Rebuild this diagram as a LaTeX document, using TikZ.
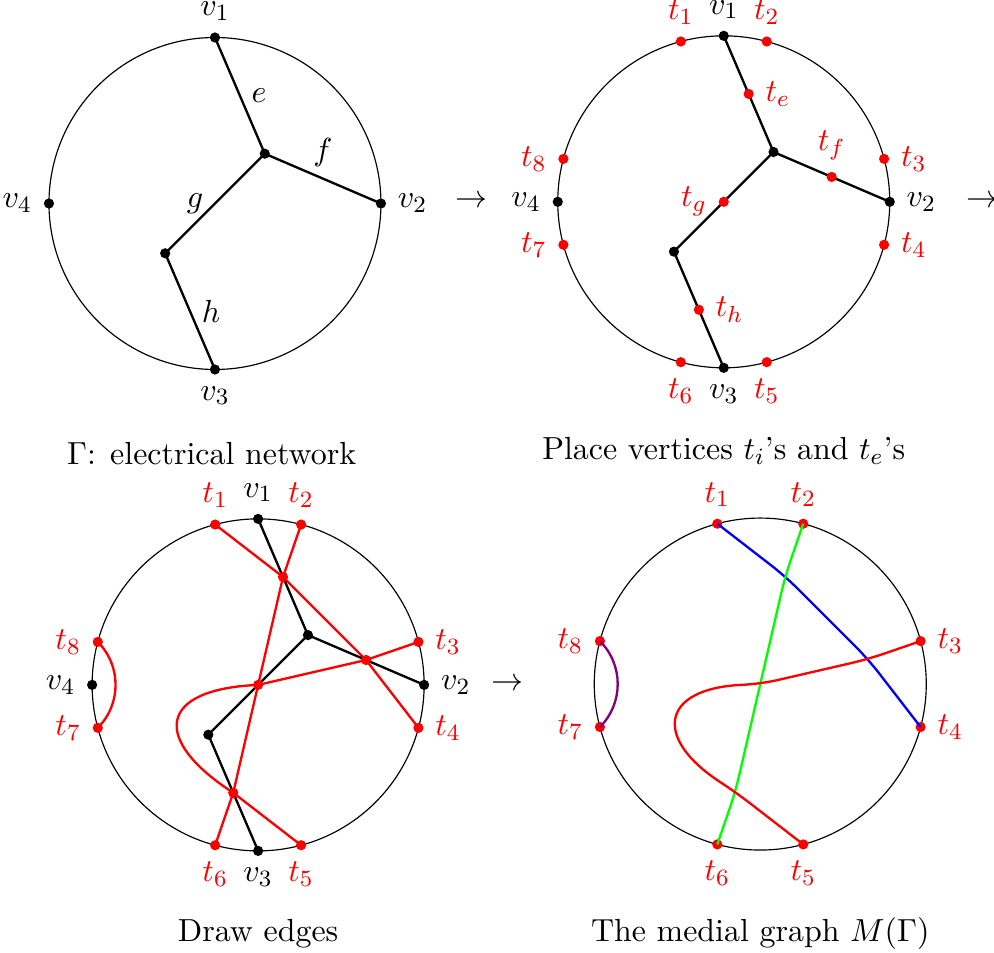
\documentclass[tikz,border=0pt,11pt]{standalone}
\usepackage{amsmath}
\usetikzlibrary{calc,positioning}

\tikzset{
  vtx/.style={circle, fill=black, inner sep=0pt, minimum size=3.5pt, label distance=-1.5pt},
  tvtx/.style={vtx, fill=red},
  edge/.style={thick},
  redge/.style={thick, red},
  medial/.style={thick, rounded corners=6pt},
}

\begin{document}
\begin{tikzpicture}
\useasboundingbox (0,0) rectangle (11.976,11.482);

% the same points in all four panels
\foreach \p/\cx/\cy in {a/2.59/9.03, b/8.72/9.05, c/3.11/3.23, d/9.16/3.24}{
  \begin{scope}[shift={(\cx,\cy)}]
    \coordinate (\p-o) at (0,0);
    \coordinate (\p-v1) at (90:2);
    \coordinate (\p-v2) at (0:2);
    \coordinate (\p-v3) at (270:2);
    \coordinate (\p-v4) at (180:2);
    \coordinate (\p-A) at (0.6,0.6);
    \coordinate (\p-B) at (-0.6,-0.6);
    \coordinate (\p-te) at (0.3,1.3);
    \coordinate (\p-tf) at (1.3,0.3);
    \coordinate (\p-tg) at (0,0);
    \coordinate (\p-th) at (-0.3,-1.3);
    \coordinate (\p-c1) at (-1.2,-0.05);
    \coordinate (\p-c2) at (-1.3,-0.65);
    \foreach \i/\a in {1/105,2/75,3/15,4/-15,5/-75,6/-105,7/195,8/165}
      \coordinate (\p-t\i) at (\a:2);
  \end{scope}
}

% panel 1: the network
\draw (a-o) circle (2);
\draw[edge] (a-v1) -- node[right]{$e$} (a-A);
\draw[edge] (a-A) -- node[above]{$f$} (a-v2);
\draw[edge] (a-A) -- node[left]{$g$} (a-B);
\draw[edge] (a-B) -- node[right]{$h$} (a-v3);
\foreach \v/\pos in {1/above,2/right,3/below,4/left}
  \node[vtx, label=\pos:$v_\v$] at (a-v\v) {};
\node[vtx] at (a-A) {}; \node[vtx] at (a-B) {};

% panel 2: new vertices
\draw (b-o) circle (2);
\draw[edge] (b-v1) -- (b-A) -- (b-v2);
\draw[edge] (b-A) -- (b-B) -- (b-v3);
\foreach \v/\pos in {1/above,2/right,3/below,4/left}
  \node[vtx, label=\pos:$v_\v$] at (b-v\v) {};
\node[vtx] at (b-A) {}; \node[vtx] at (b-B) {};
\foreach \i/\pos in {1/above,2/above,3/right,4/right,5/below,6/below,7/left,8/left}
  \node[tvtx, label={[red]\pos:$t_\i$}] at (b-t\i) {};
\node[tvtx, label={[red]right:$t_e$}] at (b-te) {};
\node[tvtx, label={[red]above:$t_f$}] at (b-tf) {};
\node[tvtx, label={[red]left:$t_g$}] at (b-tg) {};
\node[tvtx, label={[red]right:$t_h$}] at (b-th) {};

% panel 3: edges
\draw (c-o) circle (2);
\draw[redge] (c-t1) -- (c-te) -- (c-tf) -- (c-t4);
\draw[redge] (c-t2) -- (c-te) -- (c-tg) -- (c-th) -- (c-t6);
\draw[redge] (c-t3) -- (c-tf) -- (c-tg) .. controls (c-c1) and (c-c2) .. (c-th) -- (c-t5);
\draw[redge] (c-t8) to[bend left=45] (c-t7);
\draw[edge] (c-v1) -- (c-A) -- (c-v2);
\draw[edge] (c-A) -- (c-B) -- (c-v3);
\foreach \v/\pos in {1/above,2/right,3/below,4/left}
  \node[vtx, label=\pos:$v_\v$] at (c-v\v) {};
\node[vtx] at (c-A) {}; \node[vtx] at (c-B) {};
\foreach \i/\pos in {1/above,2/above,3/right,4/right,5/below,6/below,7/left,8/left}
  \node[tvtx, label={[red]\pos:$t_\i$}] at (c-t\i) {};
\foreach \q in {te,tf,tg,th}
  \node[tvtx] at (c-\q) {};

% panel 4: medial graph
\draw (d-o) circle (2);
\foreach \i/\pos in {1/above,2/above,3/right,4/right,5/below,6/below,7/left,8/left}
  \node[tvtx, label={[red]\pos:$t_\i$}] at (d-t\i) {};
\draw[medial, blue] (d-t1) -- (d-te) -- (d-tf) -- (d-t4);
\draw[medial, green] (d-t2) -- (d-te) -- (d-tg) -- (d-th) -- (d-t6);
\draw[medial, red] (d-t3) -- (d-tf) -- (d-tg) .. controls (d-c1) and (d-c2) .. (d-th) -- (d-t5);
\draw[medial, violet] (d-t8) to[bend left=45] (d-t7);

% captions and arrows
\node[anchor=base] (capa) at (2.55,5.88) {$\Gamma$: electrical network};
\node[anchor=base] (capb) at (8.72,5.94) {Place vertices $t_i$'s and $t_e$'s};
\node[anchor=base] (capc) at (3.11,0.133) {Draw edges};
\node[anchor=base] (capd) at (9.16,0.133) {The medial graph $M(\Gamma)$};
\node (arra) at (5.68,9.05) {$\rightarrow$};
\node (arrb) at (11.84,9.05) {$\rightarrow$};
\node (arrc) at (6.12,3.23) {$\rightarrow$};
\end{tikzpicture}
\end{document}
